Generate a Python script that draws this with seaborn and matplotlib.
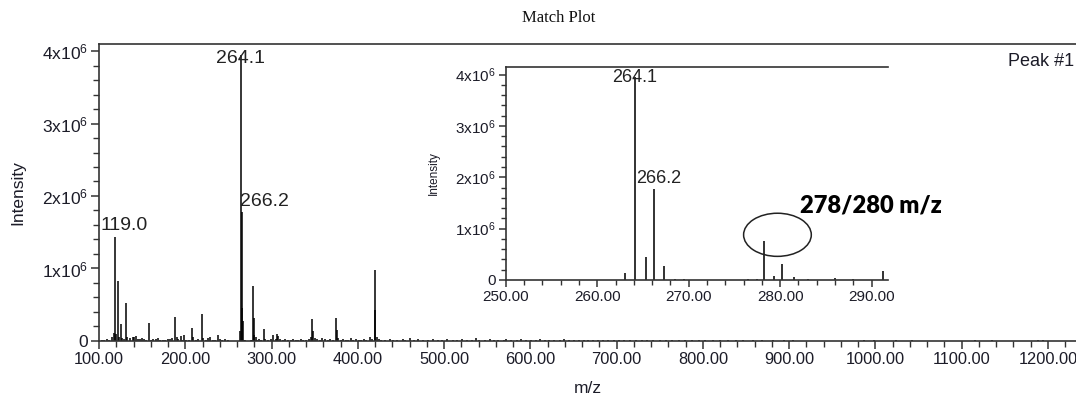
import matplotlib
matplotlib.use("Agg")
import matplotlib.pyplot as plt
from matplotlib.patches import Ellipse
from matplotlib.ticker import MultipleLocator, FuncFormatter
import pandas as pd
import seaborn as sns

# peaks: m/z and intensity (in units of 1e6 counts)
# low mass region
low_mz = [103, 106, 109, 112, 115, 117.7, 119.0, 120.2, 122.4, 123.5,
          125.5, 127, 129, 130.9, 133, 136, 139, 141, 143, 145,
          148, 150, 152, 155, 158, 160, 163, 166, 168, 171,
          174, 177, 180, 182, 185, 188, 190, 192, 194.7, 196,
          198.9, 201, 204, 207.5, 209, 212, 215, 219, 221, 224,
          226, 228.7, 232, 235, 237.9, 240, 243, 246, 249]
low_int = [0.02, 0.02, 0.03, 0.02, 0.05, 0.11, 1.44, 0.10, 0.83, 0.05,
           0.23, 0.04, 0.03, 0.52, 0.05, 0.04, 0.06, 0.05, 0.07, 0.03,
           0.03, 0.04, 0.03, 0.02, 0.25, 0.02, 0.03, 0.03, 0.04, 0.02,
           0.02, 0.02, 0.03, 0.03, 0.04, 0.33, 0.05, 0.03, 0.07, 0.02,
           0.08, 0.02, 0.02, 0.18, 0.06, 0.02, 0.03, 0.37, 0.04, 0.02,
           0.04, 0.06, 0.02, 0.02, 0.08, 0.03, 0.02, 0.03, 0.02]

# molecular ion cluster
cluster_mz = [263.0, 264.1, 265.3, 266.2, 267.3, 268.5, 269.5, 276.5, 277.5, 278.2,
              279.3, 280.2, 281.5, 283, 286, 288, 291.2, 293]
cluster_int = [0.14, 3.95, 0.45, 1.78, 0.28, 0.02, 0.02, 0.01, 0.02, 0.76,
               0.08, 0.32, 0.06, 0.02, 0.03, 0.02, 0.17, 0.03]

# mid mass region
mid_mz = [296, 299, 302, 305, 306.5, 308, 310, 313, 316, 319,
          322, 325, 328, 331, 334, 337, 340, 343, 345.5, 347.2,
          348.3, 350, 353, 356, 359, 362, 365, 368, 371, 374.2,
          375.8, 377, 380, 383, 386, 389, 392, 395, 398, 401,
          404, 407, 410, 414, 416, 419.4, 420.5, 421.7, 424, 427]
mid_int = [0.02, 0.03, 0.08, 0.03, 0.09, 0.07, 0.03, 0.02, 0.03, 0.02,
           0.02, 0.03, 0.02, 0.02, 0.03, 0.02, 0.02, 0.03, 0.05, 0.30,
           0.14, 0.04, 0.03, 0.02, 0.04, 0.03, 0.02, 0.03, 0.02, 0.31,
           0.15, 0.04, 0.02, 0.03, 0.02, 0.02, 0.04, 0.02, 0.03, 0.02,
           0.02, 0.03, 0.02, 0.06, 0.03, 0.98, 0.43, 0.06, 0.03, 0.02]

# baseline noise at high mass
tail_mz = [432, 437, 441, 446, 452, 455, 461, 465, 470, 476,
           481, 487, 493, 498, 503, 510, 515, 521, 526, 532,
           537, 541, 547, 553, 558, 563, 569, 572, 578, 584,
           589, 595, 601, 606, 611, 617, 622, 628, 634, 639,
           645, 651, 656, 662, 667, 673, 679, 684, 690, 697,
           703, 709, 716, 722, 729, 735, 742, 750, 757, 764,
           772, 779, 787, 795, 803, 812, 820, 829, 838, 847,
           858, 869, 881, 893.7, 904.5, 986.7, 998.3, 1023.8, 1042.8, 1116,
           1135.4, 1188.9, 1193.9]
tail_int = [0.02, 0.03, 0.02, 0.02, 0.03, 0.02, 0.04, 0.02, 0.03, 0.02,
            0.02, 0.03, 0.02, 0.02, 0.03, 0.02, 0.02, 0.03, 0.02, 0.02,
            0.04, 0.02, 0.02, 0.03, 0.02, 0.02, 0.02, 0.03, 0.02, 0.02,
            0.03, 0.02, 0.02, 0.02, 0.03, 0.02, 0.02, 0.02, 0.02, 0.03,
            0.02, 0.02, 0.02, 0.02, 0.02, 0.02, 0.02, 0.02, 0.02, 0.01,
            0.02, 0.02, 0.01, 0.02, 0.01, 0.02, 0.01, 0.01, 0.02, 0.01,
            0.01, 0.01, 0.01, 0.01, 0.01, 0.01, 0.01, 0.01, 0.01, 0.01,
            0.01, 0.01, 0.01, 0.01, 0.01, 0.01, 0.01, 0.01, 0.01, 0.01,
            0.01, 0.01, 0.01]

# labelled peaks and the zoom window
main_labels = [119.0, 264.1, 266.2]
inset_labels = [264.1, 266.2]
inset_range = (250, 291.75)

df = pd.DataFrame({"mz": low_mz + cluster_mz + mid_mz + tail_mz,
                   "intensity": [v * 1e6 for v in low_int + cluster_int + mid_int + tail_int]})

sns.set_theme(style="ticks")
plt.rcParams['font.family'] = ['Liberation Sans', 'DejaVu Sans']
plt.rcParams['mathtext.default'] = 'regular'

ink = '#1c1c28'


def sci_fmt(v, pos):
    if abs(v) < 1:
        return '0'
    return r'$\mathregular{%dx10^{6}}$' % round(v / 1e6)


def style_axis(ax, size, major_len, minor_len):
    ax.tick_params(which='major', length=major_len, width=1.1, color='#333333',
                   labelsize=size, labelcolor=ink, pad=2)
    ax.tick_params(which='minor', length=minor_len, width=1.0, color='#333333')
    for s in ['left', 'bottom', 'top']:
        ax.spines[s].set_color('#333333')
        ax.spines[s].set_linewidth(1.2)
    ax.spines['right'].set_visible(False)


fig = plt.figure(figsize=(10.76, 3.96), dpi=100)

# main spectrum
ax = fig.add_axes([0.092, 0.139, 0.908, 0.751])
ax.vlines(df.mz, 0, df.intensity, color='black', lw=1.1)
ax.set_xlim(100, 1232.5)
ax.set_ylim(0, 4.103e6)
ax.xaxis.set_major_locator(MultipleLocator(100))
ax.xaxis.set_minor_locator(MultipleLocator(20))
ax.xaxis.set_major_formatter(FuncFormatter(lambda v, p: f'{v:.2f}'))
ax.yaxis.set_major_locator(MultipleLocator(1e6))
ax.yaxis.set_minor_locator(MultipleLocator(0.2e6))
ax.yaxis.set_major_formatter(FuncFormatter(sci_fmt))
style_axis(ax, 12.5, 6, 4)
ax.tick_params(axis='x', labelsize=11.8)
ax.set_xlabel('m/z', fontsize=12.5, color=ink, labelpad=10)
ax.set_ylabel('Intensity', fontsize=12.5, color=ink, labelpad=12)

offsets = {119.0: (-11, 5, 'left'), 264.1: (0, -6, 'center'), 266.2: (-1.5, 4, 'left')}
for m in main_labels:
    h = df.loc[df.mz == m, 'intensity'].iloc[0]
    dx, dy, ha = offsets[m]
    ax.annotate(f'{m:.1f}', xy=(m, h), xytext=(dx, dy), textcoords='offset points',
                ha=ha, va='baseline', fontsize=14, color='#222222')

# zoomed inset around the molecular ion cluster
axi = fig.add_axes([0.470, 0.293, 0.355, 0.538])
sub = df[(df.mz >= inset_range[0]) & (df.mz <= inset_range[1])]
axi.vlines(sub.mz, 0, sub.intensity, color='#222222', lw=1.3)
axi.set_xlim(*inset_range)
axi.set_ylim(0, 4.15e6)
axi.xaxis.set_major_locator(MultipleLocator(10))
axi.xaxis.set_minor_locator(MultipleLocator(2))
axi.xaxis.set_major_formatter(FuncFormatter(lambda v, p: f'{v:.2f}'))
axi.yaxis.set_major_locator(MultipleLocator(1e6))
axi.yaxis.set_minor_locator(MultipleLocator(0.2e6))
axi.yaxis.set_major_formatter(FuncFormatter(sci_fmt))
style_axis(axi, 11, 5, 3.5)
axi.set_ylabel('Intensity', fontsize=8.5, color=ink, labelpad=11)

ioffsets = {264.1: (0, -3.4, 'center'), 266.2: (3.5, 3.9, 'center')}
for m in inset_labels:
    h = df.loc[df.mz == m, 'intensity'].iloc[0]
    dx, dy, ha = ioffsets[m]
    axi.annotate(f'{m:.1f}', xy=(m, h), xytext=(dx, dy), textcoords='offset points',
                 ha=ha, va='baseline', fontsize=13, color='#222222')

# circle around the 278/280 pair
axi.add_patch(Ellipse((279.7, 0.88e6), width=7.4, height=0.84e6, fill=False,
                      lw=1.1, ec='#222222', clip_on=False))
fig.text(0.7435, 0.4646, '278/280 m/z', fontsize=17, fontweight='heavy',
         family=['Lato', 'DejaVu Sans'], color='black')

fig.text(0.519, 0.944, 'Match Plot', fontsize=12, family=['Liberation Serif'],
         ha='center', va='baseline', color='#111111')
fig.text(0.937, 0.833, 'Peak #1', fontsize=13, ha='left', va='baseline', color=ink)

plt.savefig('out.png', dpi=100)
